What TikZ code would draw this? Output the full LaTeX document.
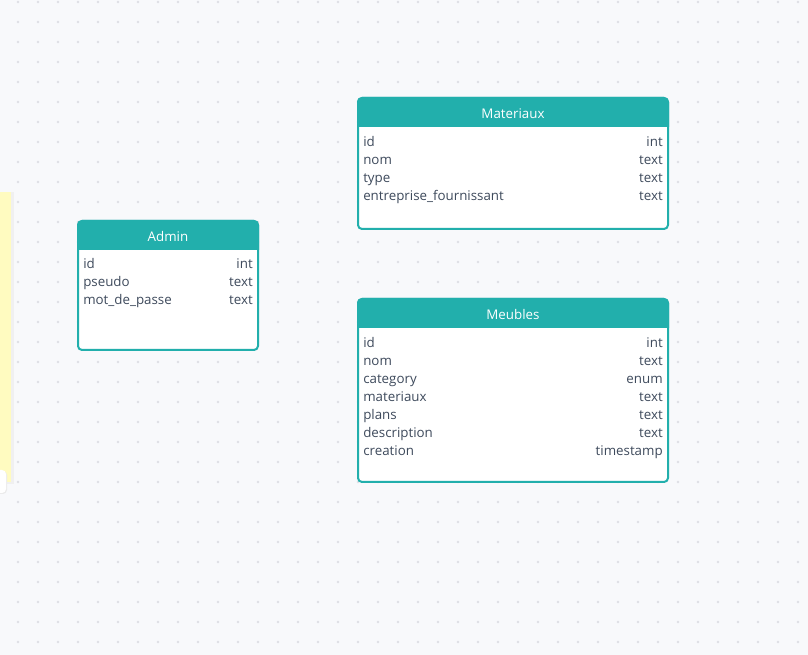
\documentclass[tikz,border=0pt]{standalone}
\usepackage{fontspec}
\setmainfont{Open Sans}
\definecolor{bgc}{HTML}{F8F9FB}
\definecolor{dotc}{HTML}{DEDFE4}
\definecolor{tealc}{HTML}{22AFAC}
\definecolor{txtc}{HTML}{3E4A5C}
\definecolor{yel}{HTML}{FFFBC0}
\tikzset{
  tblbox/.style={draw=tealc, fill=white, line width=1.5pt, rounded corners=3pt},
  tbltitle/.style={font=\fontsize{10pt}{12pt}\selectfont, text=white, inner sep=0pt, yshift=-0.8pt},
  fname/.style={font=\fontsize{10pt}{12pt}\selectfont, text=txtc, inner sep=0pt, anchor=west, text height=7.2pt, text depth=2pt, yshift=-1.5pt},
  ftype/.style={font=\fontsize{10pt}{12pt}\selectfont, text=txtc, inner sep=0pt, anchor=east, text height=7.2pt, text depth=2pt, yshift=-1.5pt},
}
\newcommand{\erdtbl}[7]{%
  % #1 name, #2 x1, #3 y1, #4 x2, #5 y2, #6 header bottom, #7 title
  \draw[tblbox] (#2,#3) rectangle (#4,#5);
  \node[inner sep=0pt, minimum size=0pt] (#1) at ({(#2+#4)/2},{(#3+#5)/2}) {};
  \fill[tealc] (#2,#6) {[rounded corners=3pt] -- (#2,#3) -- (#4,#3)} -- (#4,#6) -- cycle;
  \draw[tealc, line width=1.5pt, rounded corners=3pt] (#2,#6) -- (#2,#3) -- (#4,#3) -- (#4,#6);
  \node[tbltitle] (#1-title) at ({(#2+#4)/2},{(#3+#6)/2}) {#7};
}
\begin{document}
\begin{tikzpicture}[x=0.75pt,y=-0.75pt]
\fill[bgc] (0,0) rectangle (808,655);
\useasboundingbox (0,0) rectangle (808,655);
\foreach \i in {0,...,39} {
  \foreach \j in {0,...,32} {
    \fill[dotc] ({18+20*\i},{2+20*\j}) circle (1.3);
  }
}
% yellow note at left edge
\fill[black!6] (0,192) rectangle (14,484);
\fill[yel] (0,192) rectangle (11,482);
\fill[black!8, rounded corners=3pt] (-6,471) rectangle (7,494);
\fill[white, rounded corners=3pt] (-6,470) rectangle (6,493);

% Admin
\erdtbl{admin}{78}{221}{258}{350}{250}{Admin}
\foreach \n/\t/\y [count=\k] in {id/int/263, pseudo/text/281, mot\_de\_passe/text/299} {
  \node[fname] (admin-n\k) at (83,\y) {\n};
  \node[ftype] (admin-t\k) at (253,\y) {\t};
}

% Materiaux
\erdtbl{materiaux}{358}{98}{668}{229}{127}{Materiaux}
\foreach \n/\t/\y [count=\k] in {id/int/141, nom/text/159, type/text/177, entreprise\_fournissant/text/195} {
  \node[fname] (mat-n\k) at (363,\y) {\n};
  \node[ftype] (mat-t\k) at (663,\y) {\t};
}

% Meubles
\erdtbl{meubles}{358}{299}{668}{482}{328}{Meubles}
\foreach \n/\t/\y [count=\k] in {id/int/342, nom/text/360, category/enum/378, materiaux/text/396, plans/text/414, description/text/432, creation/timestamp/450} {
  \node[fname] (meu-n\k) at (363,\y) {\n};
  \node[ftype] (meu-t\k) at (663,\y) {\t};
}
\end{tikzpicture}
\end{document}
